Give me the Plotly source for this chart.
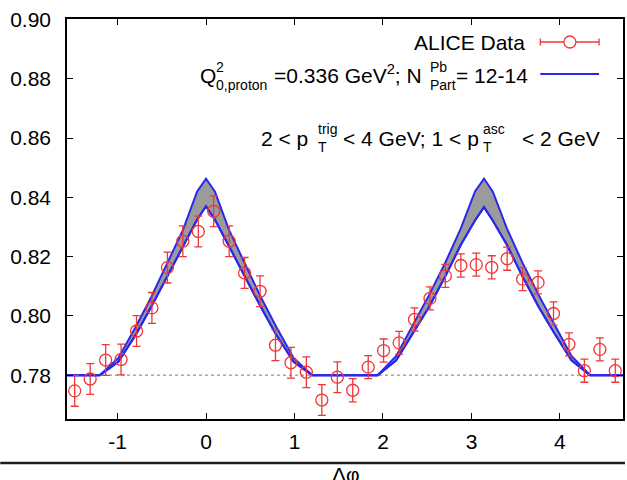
import plotly.graph_objects as go

# ---------------- data ----------------
dphi = [-1.484, -1.309, -1.134, -0.960, -0.785, -0.611, -0.436, -0.262, -0.087,
        0.087, 0.262, 0.436, 0.611, 0.785, 0.960, 1.134, 1.309, 1.484,
        1.658, 1.833, 2.007, 2.182, 2.356, 2.531, 2.705, 2.880, 3.054,
        3.229, 3.403, 3.578, 3.752, 3.927, 4.102, 4.276, 4.451, 4.625]
alice = [0.7747, 0.7787, 0.7851, 0.7853, 0.7949, 0.8027, 0.8163, 0.8252, 0.8285,
         0.8353, 0.8252, 0.8145, 0.8083, 0.7901, 0.7842, 0.7810, 0.7716, 0.7793,
         0.7749, 0.7827, 0.7883, 0.7909, 0.7988, 0.8059, 0.8135, 0.8170, 0.8173,
         0.8164, 0.8193, 0.8124, 0.8113, 0.8008, 0.7904, 0.7815, 0.7887, 0.7815]
alice_err = [0.0052] * 18 + [0.0039] * 18

theory_x = [-1.5708, -1.20, -0.99, -0.79, -0.62, -0.44, -0.26, -0.10, 0.0,
            0.10, 0.26, 0.44, 0.62, 0.79, 0.99, 1.20,
            1.94, 2.15, 2.35, 2.52, 2.70, 2.88, 3.04, 3.1416,
            3.24, 3.40, 3.58, 3.76, 3.93, 4.13, 4.34, 4.7124]
theory_upper = [0.7800, 0.7800, 0.7858, 0.7965, 0.8063, 0.8176, 0.8290, 0.8420, 0.8463,
                0.8420, 0.8290, 0.8176, 0.8063, 0.7965, 0.7858, 0.7800,
                0.7800, 0.7865, 0.7975, 0.8070, 0.8177, 0.8295, 0.8420, 0.8463,
                0.8420, 0.8295, 0.8177, 0.8070, 0.7975, 0.7865, 0.7800, 0.7800]
theory_lower = [0.7800, 0.7800, 0.7845, 0.7938, 0.8030, 0.8131, 0.8235, 0.8325, 0.8370,
                0.8325, 0.8235, 0.8131, 0.8030, 0.7938, 0.7845, 0.7800,
                0.7800, 0.7850, 0.7945, 0.8030, 0.8131, 0.8240, 0.8322, 0.8367,
                0.8322, 0.8240, 0.8131, 0.8030, 0.7945, 0.7850, 0.7800, 0.7800]
baseline = 0.78

x_ticks = [-1, 0, 1, 2, 3, 4]
x_ticktext = ["-1", "0", "1", "2", "3", "4"]
x_range = [-1.5708, 4.7124]
y_range = [0.7652, 0.9002]

# ---------------- layout helpers ----------------
W, H = 627, 480
ML, MR, MT, MB = 67, 2, 19, 61
PW, PH = W - ML - MR, H - MT - MB


def px(x):
    return (x - ML) / PW


def py(y):
    return (H - MB - y) / PH


RED = "rgb(240,55,55)"
BLUE = "rgb(40,40,238)"
FONT = "Liberation Sans, Arial, Helvetica, sans-serif"

fig = go.Figure()

fig.add_trace(go.Scatter(x=theory_x, y=theory_lower, mode="lines",
                         line=dict(color=BLUE, width=2), showlegend=False))
fig.add_trace(go.Scatter(x=theory_x, y=theory_upper, mode="lines", fill="tonexty",
                         fillcolor="rgb(155,155,155)",
                         line=dict(color=BLUE, width=2), showlegend=False))
fig.add_trace(go.Scatter(x=theory_x, y=theory_lower, mode="lines",
                         line=dict(color=BLUE, width=2), showlegend=False))
fig.add_trace(go.Scatter(x=dphi, y=alice, mode="markers",
                         marker=dict(symbol="circle-open", size=12, color=RED,
                                     line=dict(width=1.3, color=RED)),
                         error_y=dict(type="data", array=alice_err, visible=True,
                                      color=RED, thickness=1.3, width=4),
                         showlegend=False))

shapes = []
# dotted baseline
shapes.append(dict(type="line", xref="x", yref="y", x0=x_range[0], x1=x_range[1],
                   y0=baseline, y1=baseline,
                   line=dict(color="rgb(120,120,120)", width=1, dash="dot"), layer="below"))
# bottom frame line of the figure
shapes.append(dict(type="line", xref="paper", yref="paper", x0=px(0), x1=px(W),
                   y0=py(463), y1=py(463), line=dict(color="rgb(30,30,30)", width=2.5)))
# legend sample: ALICE data
ly1 = 42
shapes.append(dict(type="line", xref="paper", yref="paper", x0=px(542), x1=px(601),
                   y0=py(ly1), y1=py(ly1), line=dict(color=RED, width=1.3)))
for cx in (542, 601):
    shapes.append(dict(type="line", xref="paper", yref="paper", x0=px(cx), x1=px(cx),
                       y0=py(ly1 - 3.5), y1=py(ly1 + 3.5), line=dict(color=RED, width=1.3)))
shapes.append(dict(type="circle", xref="paper", yref="paper", xsizemode="pixel",
                   ysizemode="pixel", xanchor=px(571.7), yanchor=py(ly1),
                   x0=-6, x1=6, y0=-6, y1=6, fillcolor="white",
                   line=dict(color=RED, width=1.3)))
# legend sample: theory
ly2 = 74
shapes.append(dict(type="line", xref="paper", yref="paper", x0=px(542), x1=px(601),
                   y0=py(ly2), y1=py(ly2), line=dict(color=BLUE, width=2)))

anns = []


def ann(text, x, y, size=21, xanchor="left"):
    anns.append(dict(text=text, xref="paper", yref="paper", x=px(x), y=py(y),
                     xanchor=xanchor, yanchor="middle", showarrow=False, align="left",
                     borderpad=0,
                     font=dict(family=FONT, size=size, color="black")))


S = 14
ann("ALICE Data", 528, 42, xanchor="right")
# line 2
ann("Q", 218, 76, xanchor="right")
ann("2<br>0,proton", 216, 76, size=S)
ann("=0.336 GeV<sup>2</sup>; N", 424, 74, xanchor="right")
ann("Pb<br>Part", 430, 76, size=S)
ann("= 12-14", 531, 76, xanchor="right")
# line 3
ann("2 < p", 310, 138, xanchor="right")
ann("trig<br>T", 318, 138, size=S)
ann("< 4 GeV; 1 < p", 481, 138, xanchor="right")
ann("asc<br>T", 483, 138, size=S)
ann("< 2 GeV", 603, 138, xanchor="right")
# axis title
ann("Δφ", 347, 474, xanchor="center")

fig.update_layout(
    width=W, height=H,
    margin=dict(l=ML, r=MR, t=MT, b=MB, pad=0),
    paper_bgcolor="white", plot_bgcolor="white",
    font=dict(family=FONT, size=21, color="black"),
    shapes=shapes, annotations=anns, showlegend=False,
    xaxis=dict(range=x_range, tickvals=x_ticks, ticktext=x_ticktext, ticks="inside",
               ticklen=6, tickwidth=1, tickcolor="black", showline=True,
               linecolor="black", linewidth=1.5, mirror="allticks", showgrid=False,
               zeroline=False, ticklabelstandoff=3,
               tickfont=dict(size=21, color="black")),
    yaxis=dict(range=y_range, tick0=0.78, dtick=0.02, tickformat=".2f",
               ticks="inside", ticklen=6, tickwidth=1, tickcolor="black",
               showline=True, linecolor="black", linewidth=1.5, mirror="allticks",
               showgrid=False, zeroline=False, ticklabelstandoff=10,
               tickfont=dict(size=21, color="black")),
)

fig.write_html("out.html")
